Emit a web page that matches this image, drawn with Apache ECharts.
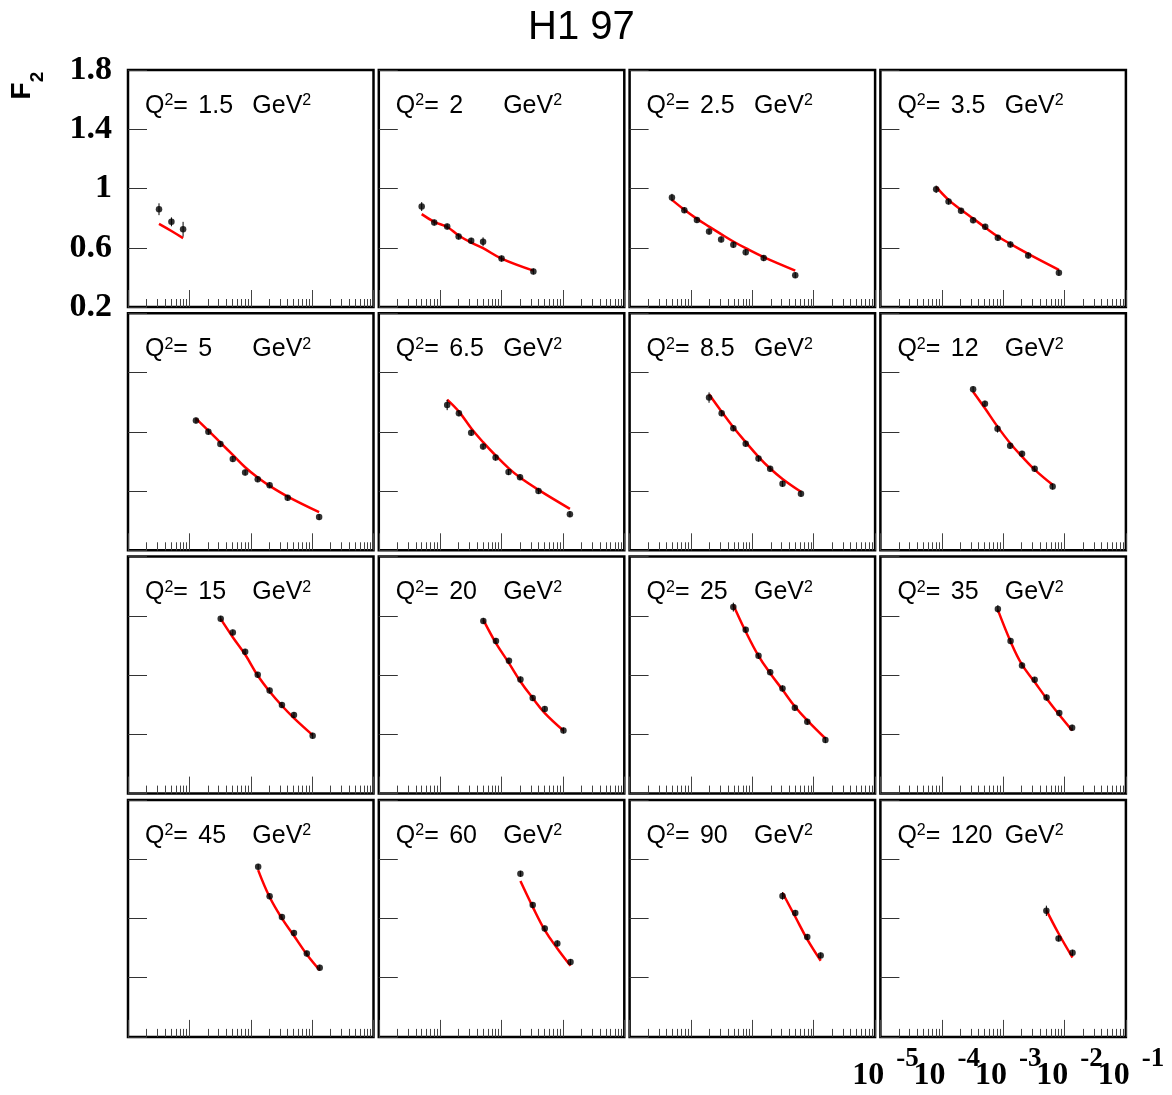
<!DOCTYPE html>
<html>
<head>
<meta charset="utf-8">
<script src="https://cdn.jsdelivr.net/npm/echarts@6/dist/echarts.min.js"></script>
<style>html,body{margin:0;padding:0;background:#fff}#c{width:1172px;height:1095px}</style>
</head>
<body>
<div id="c"></div>
<script>
// ---------- data ----------
const q2Labels = ['1.5','2','2.5','3.5','5','6.5','8.5','12','15','20','25','35','45','60','90','120'];
const yTickValues = [0.2, 0.6, 1, 1.4, 1.8];
const xDecadeExponents = [-5, -4, -3, -2, -1];
const xMinorMultipliers = [2, 3, 4, 5, 6, 7, 8, 9];

const x01 = [3.2e-5, 5.1e-5, 7.9e-5];
const f2_01 = [0.860, 0.775, 0.725];
const err01 = [0.04, 0.03, 0.05];
const fit01 = [0.761, 0.713, 0.665];

const x02 = [5.0e-5, 8.0e-5, 1.3e-4, 2.0e-4, 3.2e-4, 5.0e-4, 1.0e-3, 3.3e-3];
const f2_02 = [0.878, 0.770, 0.743, 0.676, 0.647, 0.640, 0.527, 0.440];
const err02 = [0.03, 0.02, 0.02, 0.02, 0.02, 0.03, 0.02, 0.02];
const fit02 = [0.827, 0.775, 0.740, 0.683, 0.635, 0.597, 0.527, 0.446];

const x03 = [4.9e-5, 7.8e-5, 1.25e-4, 1.97e-4, 3.1e-4, 4.9e-4, 7.8e-4, 1.53e-3, 5.0e-3];
const f2_03 = [0.939, 0.854, 0.788, 0.709, 0.656, 0.620, 0.570, 0.530, 0.415];
const err03 = [0.025, 0.02, 0.02, 0.02, 0.02, 0.02, 0.02, 0.02, 0.02];
const fit03 = [0.923, 0.856, 0.795, 0.743, 0.692, 0.642, 0.597, 0.537, 0.446];

const x04 = [8.1e-5, 1.29e-4, 2.06e-4, 3.24e-4, 5.1e-4, 8.2e-4, 1.31e-3, 2.56e-3, 8.1e-3];
const f2_04 = [0.995, 0.912, 0.849, 0.786, 0.741, 0.667, 0.622, 0.548, 0.431];
const err04 = [0.025, 0.02, 0.02, 0.02, 0.02, 0.02, 0.02, 0.02, 0.02];
const fit04 = [1.011, 0.923, 0.856, 0.797, 0.737, 0.676, 0.626, 0.559, 0.451];

const x05 = [1.28e-4, 2.04e-4, 3.2e-4, 5.1e-4, 8.1e-4, 1.3e-3, 2.03e-3, 4.0e-3, 1.3e-2];
const f2_05 = [1.076, 1.001, 0.918, 0.817, 0.725, 0.680, 0.640, 0.554, 0.424];
const err05 = [0.02, 0.02, 0.02, 0.02, 0.02, 0.02, 0.02, 0.02, 0.02];
const fit05 = [1.089, 1.008, 0.927, 0.844, 0.761, 0.691, 0.635, 0.563, 0.458];

const x06 = [1.3e-4, 2.02e-4, 3.2e-4, 5.0e-4, 8.0e-4, 1.3e-3, 2.0e-3, 4.0e-3, 1.3e-2];
const f2_06 = [1.181, 1.125, 0.993, 0.900, 0.826, 0.728, 0.694, 0.601, 0.444];
const err06 = [0.035, 0.02, 0.02, 0.02, 0.02, 0.02, 0.02, 0.02, 0.02];
const fit06 = [1.217, 1.136, 1.024, 0.930, 0.840, 0.755, 0.691, 0.608, 0.480];

const x07 = [1.97e-4, 3.16e-4, 4.9e-4, 7.8e-4, 1.26e-3, 1.95e-3, 3.1e-3, 6.2e-3];
const f2_07 = [1.231, 1.125, 1.024, 0.920, 0.819, 0.750, 0.649, 0.581];
const err07 = [0.035, 0.02, 0.02, 0.02, 0.02, 0.02, 0.02, 0.02];
const fit07 = [1.254, 1.136, 1.031, 0.930, 0.831, 0.752, 0.682, 0.595];

const x08 = [3.24e-4, 5.05e-4, 8.1e-4, 1.3e-3, 2.03e-3, 3.26e-3, 6.4e-3];
const f2_08 = [1.287, 1.190, 1.020, 0.905, 0.851, 0.750, 0.630];
const err08 = [0.02, 0.02, 0.025, 0.02, 0.02, 0.02, 0.02];
const fit08 = [1.271, 1.159, 1.035, 0.923, 0.833, 0.745, 0.642];

const x09 = [3.24e-4, 5.1e-4, 8.1e-4, 1.3e-3, 2.03e-3, 3.22e-3, 5.06e-3, 1.02e-2];
const f2_09 = [1.380, 1.287, 1.157, 1.002, 0.896, 0.798, 0.730, 0.591];
const err09 = [0.02, 0.02, 0.02, 0.02, 0.02, 0.02, 0.02, 0.02];
const fit09 = [1.380, 1.256, 1.139, 0.997, 0.889, 0.793, 0.710, 0.595];

const x10 = [5.05e-4, 8.1e-4, 1.32e-3, 2.03e-3, 3.22e-3, 5.06e-3, 1.02e-2];
const f2_10 = [1.366, 1.231, 1.097, 0.970, 0.845, 0.771, 0.626];
const err10 = [0.02, 0.02, 0.02, 0.02, 0.02, 0.02, 0.02];
const fit10 = [1.373, 1.216, 1.081, 0.957, 0.845, 0.744, 0.626];

const x11 = [4.9e-4, 7.8e-4, 1.26e-3, 1.95e-3, 3.1e-3, 4.93e-3, 7.85e-3, 1.55e-2];
const f2_11 = [1.459, 1.306, 1.130, 1.020, 0.910, 0.779, 0.685, 0.562];
const err11 = [0.03, 0.02, 0.02, 0.02, 0.02, 0.02, 0.02, 0.02];
const fit11 = [1.474, 1.294, 1.130, 1.013, 0.901, 0.788, 0.694, 0.572];

const x12 = [8.2e-4, 1.32e-3, 2.03e-3, 3.26e-3, 5.1e-3, 8.2e-3, 1.33e-2];
const f2_12 = [1.447, 1.231, 1.065, 0.968, 0.849, 0.744, 0.645];
const err12 = [0.025, 0.02, 0.02, 0.02, 0.02, 0.02, 0.02];
const fit12 = [1.440, 1.227, 1.070, 0.953, 0.842, 0.732, 0.626];

const x13 = [1.32e-3, 2.03e-3, 3.22e-3, 5.06e-3, 8.2e-3, 1.33e-2];
const f2_13 = [1.348, 1.150, 1.009, 0.901, 0.763, 0.667];
const err13 = [0.02, 0.02, 0.02, 0.02, 0.02, 0.02];
const fit13 = [1.326, 1.144, 1.000, 0.883, 0.757, 0.651];

const x14 = [2.03e-3, 3.22e-3, 5.06e-3, 8.1e-3, 1.33e-2];
const f2_14 = [1.301, 1.090, 0.932, 0.831, 0.705];
const err14 = [0.02, 0.02, 0.02, 0.02, 0.02];
const fit14 = [1.252, 1.078, 0.921, 0.797, 0.680];

const x15 = [3.1e-3, 5.0e-3, 7.85e-3, 1.3e-2];
const f2_15 = [1.152, 1.036, 0.874, 0.750];
const err15 = [0.025, 0.02, 0.02, 0.02];
const fit15 = [1.173, 1.011, 0.858, 0.714];

const x16 = [5.06e-3, 8.0e-3, 1.35e-2];
const f2_16 = [1.051, 0.865, 0.768];
const err16 = [0.035, 0.02, 0.02];
const fit16 = [1.056, 0.898, 0.736];

const panelX   = [x01, x02, x03, x04, x05, x06, x07, x08, x09, x10, x11, x12, x13, x14, x15, x16];
const panelF2  = [f2_01, f2_02, f2_03, f2_04, f2_05, f2_06, f2_07, f2_08, f2_09, f2_10, f2_11, f2_12, f2_13, f2_14, f2_15, f2_16];
const panelErr = [err01, err02, err03, err04, err05, err06, err07, err08, err09, err10, err11, err12, err13, err14, err15, err16];
const panelFit = [fit01, fit02, fit03, fit04, fit05, fit06, fit07, fit08, fit09, fit10, fit11, fit12, fit13, fit14, fit15, fit16];

// ---------- layout ----------
const GRID_LEFT = 128, GRID_TOP = 70, COL_STEP = 250.8, ROW_STEP = 243.3, GRID_W = 245.5, GRID_H = 237;
const X_MIN = 1e-5, X_MAX = 1e-1;

const majorTicks = xDecadeExponents.map(e => Number('1e' + e));
// nudge the two end decades a hair inside the axis extent so they survive floating-point range checks
const decadeLabelValues = majorTicks.map((v, k) => k === 0 ? v * 1.000001 : (k === majorTicks.length - 1 ? v * 0.999999 : v));
// labels are split over two overlaid axes (alternate decades) so that none is auto-hidden for overlapping
const labelsA = decadeLabelValues.filter((v, k) => k % 2 === 0);
const labelsB = decadeLabelValues.filter((v, k) => k % 2 === 1);
const minorTicks = [];
xDecadeExponents.slice(0, -1).forEach(e => xMinorMultipliers.forEach(k => minorTicks.push(Number(k + 'e' + e))));

const grids = [], xAxes = [], yAxes = [], series = [];
const titles = [{
  text: 'H1 97', left: 528, top: 8, padding: 0,
  textStyle: { fontFamily: 'Liberation Sans', fontSize: 40, fontWeight: 'normal', color: '#000' }
}];

const mainFont = { fontFamily: 'Liberation Sans', fontSize: 25, color: '#000', fontWeight: 'normal', lineHeight: 26 };
const supFont = { fontFamily: 'Liberation Sans', fontSize: 16, color: '#000', fontWeight: 'normal', lineHeight: 15, verticalAlign: 'top' };

function decadeLabel(values) {
  return {
    show: true, margin: 8.5, customValues: values,
    showMinLabel: true, showMaxLabel: true, hideOverlap: false,
    formatter: v => '{sp| }{b|10}{g| }{s|' + Math.round(Math.log10(v)) + '}',
    rich: {
      sp: { width: 10, lineHeight: 46, fontSize: 10 },
      b: { fontFamily: 'Liberation Serif', fontWeight: 'bold', fontSize: 32, lineHeight: 36, verticalAlign: 'bottom', color: '#000' },
      g: { width: 12, fontSize: 10, lineHeight: 10 },
      s: { fontFamily: 'Liberation Serif', fontWeight: 'bold', fontSize: 27, lineHeight: 25, verticalAlign: 'top', color: '#000' }
    }
  };
}

for (let i = 0; i < 16; i++) {
  const r = Math.floor(i / 4), c = i % 4;
  const L = GRID_LEFT + c * COL_STEP, T = GRID_TOP + r * ROW_STEP;
  grids.push({ left: L, top: T, width: GRID_W, height: GRID_H, show: true,
    borderColor: '#000', borderWidth: 2.5, backgroundColor: 'transparent', containLabel: false });

  const isLabelPanel = (i === 15);
  xAxes.push({
    type: 'log', logBase: 10, gridIndex: i, min: X_MIN, max: X_MAX, position: 'bottom',
    axisLine: { show: false }, splitLine: { show: false },
    axisTick: { show: true, inside: true, length: 17, customValues: majorTicks, lineStyle: { color: '#444', width: 1 } },
    axisLabel: isLabelPanel ? decadeLabel(labelsA) : { show: false }
  });
  xAxes.push({
    type: 'log', logBase: 10, gridIndex: i, min: X_MIN, max: X_MAX, position: 'bottom',
    axisLine: { show: false }, splitLine: { show: false },
    axisLabel: isLabelPanel ? decadeLabel(labelsB) : { show: false },
    axisTick: { show: true, inside: true, length: 8, customValues: minorTicks, lineStyle: { color: '#444', width: 1 } }
  });
  yAxes.push({
    type: 'value', gridIndex: i, min: 0.2, max: 1.8, position: 'left',
    axisLine: { show: false }, splitLine: { show: false },
    axisTick: { show: true, inside: true, length: 19, customValues: yTickValues, lineStyle: { color: '#333', width: 1 } },
    axisLabel: i === 0 ? {
      show: true, customValues: yTickValues, margin: 16, padding: [6, 0, 0, 0],
      showMinLabel: true, showMaxLabel: true,
      fontFamily: 'Liberation Serif', fontWeight: 'bold', fontSize: 34, color: '#000'
    } : { show: false }
  });

  titles.push({
    text: '{q|Q}{qs|2}{eq|=}{v|' + q2Labels[i] + '}{u|GeV}{us|2}', left: L + 17, top: T + 23, padding: 0,
    textStyle: { ...mainFont, rich: {
      q: { ...mainFont },
      qs: { ...supFont },
      eq: { ...mainFont, width: 25 },
      v: { ...mainFont, width: 54 },
      u: { ...mainFont },
      us: { ...supFont }
    } }
  });

  const xs = panelX[i], ys = panelF2[i], es = panelErr[i], fs = panelFit[i];
  series.push({
    type: 'line', xAxisIndex: 2 * i, yAxisIndex: i, smooth: 0.4, showSymbol: false, symbol: 'none',
    lineStyle: { color: '#ff0000', width: 2.5 }, data: xs.map((x, j) => [x, fs[j]]), z: 2
  });
  series.push({
    type: 'custom', xAxisIndex: 2 * i, yAxisIndex: i, z: 3,
    data: xs.map((x, j) => [x, ys[j], es[j]]),
    renderItem: (params, api) => {
      const x = api.value(0), y = api.value(1), e = api.value(2);
      const p1 = api.coord([x, y - e]), p2 = api.coord([x, y + e]);
      return { type: 'line', shape: { x1: p1[0], y1: p1[1], x2: p2[0], y2: p2[1] },
        style: { stroke: '#000', lineWidth: 1 } };
    }
  });
  series.push({
    type: 'scatter', xAxisIndex: 2 * i, yAxisIndex: i, symbol: 'circle', symbolSize: 6.5, z: 4,
    itemStyle: { color: '#000' }, data: xs.map((x, j) => [x, ys[j]])
  });
}

const chart = echarts.init(document.getElementById('c'), null, { renderer: 'canvas' });
chart.setOption({
  animation: false,
  backgroundColor: '#fff',
  title: titles,
  grid: grids,
  xAxis: xAxes,
  yAxis: yAxes,
  series: series,
  graphic: [
    { type: 'text', x: 22, y: 91, rotation: Math.PI / 2,
      style: { text: 'F', fontFamily: 'Liberation Sans', fontWeight: 'bold', fontSize: 28, fill: '#000', align: 'center', verticalAlign: 'middle' } },
    { type: 'text', x: 38, y: 77, rotation: Math.PI / 2,
      style: { text: '2', fontFamily: 'Liberation Sans', fontWeight: 'bold', fontSize: 19, fill: '#000', align: 'center', verticalAlign: 'middle' } }
  ]
});
</script>
</body>
</html>
